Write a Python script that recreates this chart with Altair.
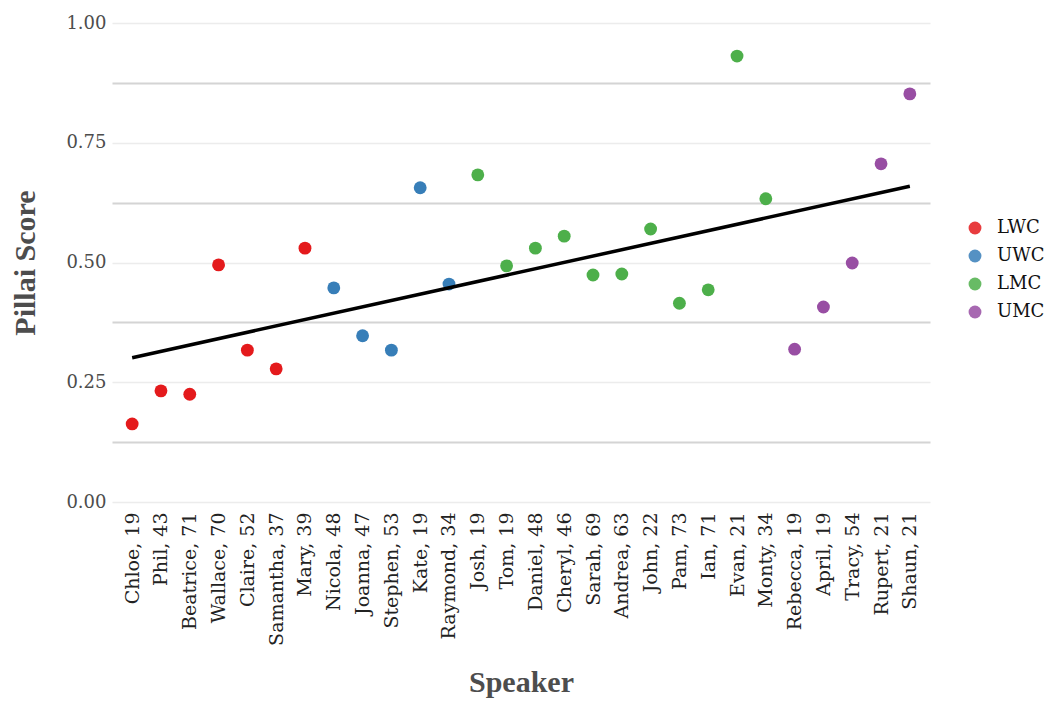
import altair as alt
import pandas as pd

speakers = ["Chloe, 19", "Phil, 43", "Beatrice, 71", "Wallace, 70", "Claire, 52",
            "Samantha, 37", "Mary, 39", "Nicola, 48", "Joanna, 47", "Stephen, 53",
            "Kate, 19", "Raymond, 34", "Josh, 19", "Tom, 19", "Daniel, 48",
            "Cheryl, 46", "Sarah, 69", "Andrea, 63", "John, 22", "Pam, 73",
            "Ian, 71", "Evan, 21", "Monty, 34", "Rebecca, 19", "April, 19",
            "Tracy, 54", "Rupert, 21", "Shaun, 21"]
classes = (["LWC"] * 7 + ["UWC"] * 5 + ["LMC"] * 11 + ["UMC"] * 5)
scores = [0.163, 0.232, 0.225, 0.495, 0.317, 0.278, 0.530,
          0.447, 0.347, 0.317, 0.656, 0.455,
          0.683, 0.493, 0.530, 0.555, 0.474, 0.476, 0.570, 0.415, 0.443, 0.931, 0.633,
          0.319, 0.407, 0.499, 0.706, 0.852]
class_order = ["LWC", "UWC", "LMC", "UMC"]
class_colors = ["#e41a1c", "#377eb8", "#4daf4a", "#984ea3"]
y_ticks = [0, 0.125, 0.25, 0.375, 0.5, 0.625, 0.75, 0.875, 1.0]

df = pd.DataFrame({"speaker": speakers, "cls": classes, "score": scores,
                   "idx": list(range(len(speakers)))})

xenc = alt.X("speaker:N", sort=speakers,
             scale=alt.Scale(type="point", padding=0.7),
             axis=alt.Axis(title="Speaker", labelAngle=270, labelAlign="right",
                           labelBaseline="middle", labelFont="DejaVu Serif",
                           labelFontSize=19, labelColor="#222222", labelPadding=10,
                           ticks=False, domain=False, grid=False,
                           titleFont="Liberation Serif", titleFontSize=30,
                           titleFontWeight="bold", titleColor="#4d4d4d",
                           titlePadding=22))

yenc = alt.Y("score:Q",
             scale=alt.Scale(domain=[0, 1], nice=False, zero=False),
             axis=alt.Axis(title="Pillai Score", values=y_ticks,
                           labelExpr="(datum.value * 8) % 2 == 1 ? '' : format(datum.value, '.2f')",
                           labelFont="DejaVu Serif", labelFontSize=18,
                           labelColor="#4d4d4d", labelPadding=6,
                           ticks=False, domain=False, grid=True,
                           gridColor={"condition": {"test": "(datum.value * 8) % 2 == 1", "value": "#d4d4d4"}, "value": "#ececec"},
                           gridWidth={"condition": {"test": "(datum.value * 8) % 2 == 1", "value": 2}, "value": 1.5},
                           titleFont="Liberation Serif", titleFontSize=30,
                           titleFontWeight="bold", titleColor="#4d4d4d",
                           titlePadding=25))

base = alt.Chart(df)

points = base.mark_circle(size=165, opacity=1).encode(
    x=xenc, y=yenc,
    color=alt.Color("cls:N", scale=alt.Scale(domain=class_order, range=class_colors),
                    legend=alt.Legend(title=None, orient="none", legendX=854, legendY=196,
                                      labelFont="DejaVu Serif", labelFontSize=18,
                                      labelColor="#111111", symbolType="circle",
                                      symbolSize=165, symbolOpacity=0.85,
                                      symbolStrokeWidth=0, rowPadding=10,
                                      labelOffset=13))
)

line = base.transform_regression("idx", "score", as_=["idx", "score"]).transform_lookup(
    lookup="idx", from_=alt.LookupData(data=df, key="idx", fields=["speaker"])
).mark_line(color="black", strokeWidth=3.5).encode(
    x=alt.X("speaker:N", sort=speakers), y="score:Q"
)

chart = alt.layer(points, line).properties(
    width=818, height=479,
    autosize=alt.AutoSizeParams(type="none"),
    padding={"left": 104, "top": 15, "right": 118, "bottom": 196},
).configure_view(stroke=None)

chart.save("out.html", embed_options={"renderer": "svg", "actions": False})
